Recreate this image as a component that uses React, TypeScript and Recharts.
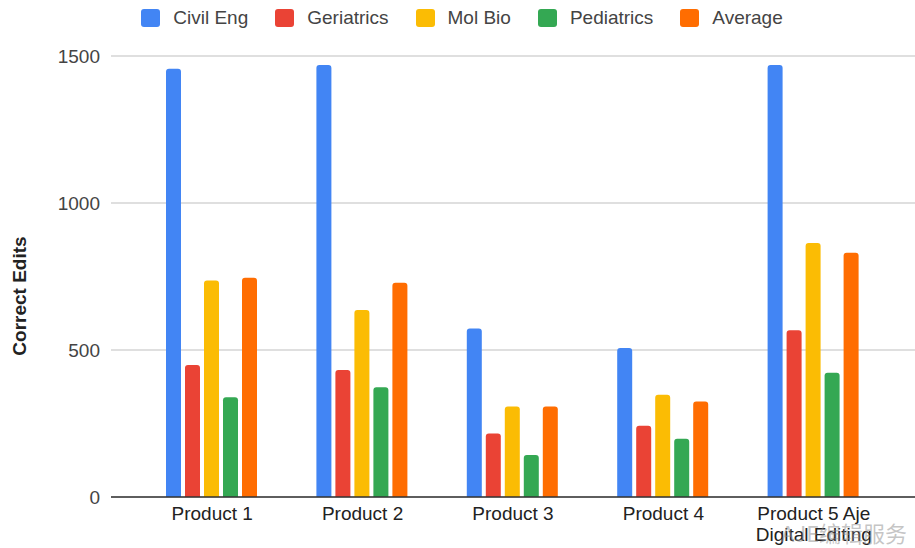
import React from 'react';
import { BarChart, Bar, XAxis, YAxis, CartesianGrid, Legend, Text } from 'recharts';

const categories = ['Product 1', 'Product 2', 'Product 3', 'Product 4', 'Product 5 Aje Digital Editing'];
const civilEng = [1457, 1469, 573, 507, 1469];
const geriatrics = [449, 432, 216, 242, 567];
const molBio = [736, 636, 308, 348, 864];
const pediatrics = [339, 373, 143, 198, 423];
const average = [746, 729, 308, 325, 831];
const yTicks = [0, 500, 1000, 1500];

const seriesDefs = [
  { key: 'civil', name: 'Civil Eng', values: civilEng, color: '#4285F4' },
  { key: 'geri', name: 'Geriatrics', values: geriatrics, color: '#EA4335' },
  { key: 'mol', name: 'Mol Bio', values: molBio, color: '#FBBC04' },
  { key: 'ped', name: 'Pediatrics', values: pediatrics, color: '#34A853' },
  { key: 'avg', name: 'Average', values: average, color: '#FF6D01' },
];

const data = categories.map((c, i) => {
  const row: Record<string, any> = { name: c };
  seriesDefs.forEach((s) => {
    row[s.key] = s.values[i];
  });
  return row;
});

const FONT = '"Liberation Sans", Arial, sans-serif';

const renderLegend = () => {
  return (
    <div
      style={{
        height: 56,
        boxSizing: 'border-box',
        paddingTop: 8,
        paddingLeft: 9,
        display: 'flex',
        justifyContent: 'center',
        alignItems: 'flex-start',
        fontFamily: FONT,
      }}
    >
      {seriesDefs.map((s, i) => (
        <div
          key={s.key}
          style={{
            display: 'flex',
            alignItems: 'center',
            marginRight: i === seriesDefs.length - 1 ? 0 : 27,
            height: 19,
          }}
        >
          <div style={{ width: 19, height: 18, borderRadius: 3, background: s.color, marginRight: 13 }} />
          <span style={{ fontSize: 19, color: '#444', lineHeight: '19px' }}>{s.name}</span>
        </div>
      ))}
    </div>
  );
};

const XTick = (props: any) => {
  const { x, y, payload } = props;
  return (
    <Text
      x={x}
      y={y}
      width={125}
      textAnchor="middle"
      verticalAnchor="start"
      lineHeight={21}
      fontSize={19}
      fontFamily={FONT}
      fill="#222"
    >
      {payload.value}
    </Text>
  );
};

const YLabel = () => (
  <text
    x={19}
    y={296}
    transform="rotate(-90 19 296)"
    textAnchor="middle"
    dominantBaseline="central"
    fontSize={19}
    fontWeight="bold"
    fontFamily={FONT}
    fill="#222"
  >
    Correct Edits
  </text>
);

export default function App() {
  return (
    <div style={{ position: 'absolute', left: 0, top: 0, width: 915, height: 548, background: '#fff' }}>
      <BarChart
        width={915}
        height={548}
        data={data}
        margin={{ top: 0, right: 0, bottom: 0, left: 0 }}
        barCategoryGap={29}
        barGap={4}
      >
        <CartesianGrid vertical={false} stroke="#d4d4d4" strokeWidth={1.3} />
        <XAxis
          dataKey="name"
          height={51}
          padding={{ left: 26, right: 26 }}
          tickLine={false}
          tickSize={0}
          tickMargin={10}
          axisLine={{ stroke: '#333', strokeWidth: 1.5 }}
          tick={<XTick />}
          interval={0}
        />
        <YAxis
          width={111}
          domain={[0, 1500]}
          ticks={yTicks}
          axisLine={false}
          tickLine={false}
          tickSize={0}
          tickMargin={11}
          tick={{ fontSize: 19, fill: '#444', fontFamily: FONT }}
          label={{ content: <YLabel /> }}
        />
        <Legend verticalAlign="top" align="center" content={renderLegend} />
        {seriesDefs.map((s) => (
          <Bar
            key={s.key}
            dataKey={s.key}
            name={s.name}
            fill={s.color}
            radius={[3, 3, 0, 0]}
            isAnimationActive={false}
          />
        ))}
      </BarChart>
      <div
        style={{
          position: 'absolute',
          left: 781,
          top: 516,
          fontSize: 22,
          color: 'rgba(140,140,140,0.5)',
          fontFamily: '"Noto Sans CJK SC", sans-serif',
          whiteSpace: 'nowrap',
          pointerEvents: 'none',
        }}
      >
        AJE编辑服务
      </div>
    </div>
  );
}
